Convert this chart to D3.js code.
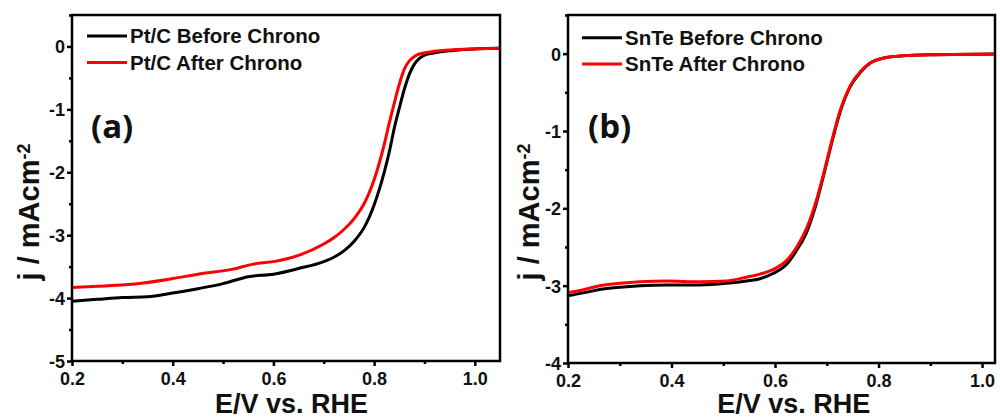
<!DOCTYPE html>
<html>
<head>
<meta charset="utf-8">
<script src="https://cdn.jsdelivr.net/npm/d3@7"></script>
<style>
  html, body { margin: 0; padding: 0; background: #fff; }
  svg { display: block; }
  .axis-title { font-family: "Liberation Sans", Arial, sans-serif; font-weight: bold; fill: #111; }
  .legend-text { font-family: "Liberation Sans", Arial, sans-serif; font-weight: bold; font-size: 20.5px; fill: #111; }
  .panel-label { font-family: "Open Sans", "Noto Sans", sans-serif; font-weight: bold; font-size: 33px; fill: #111; }
</style>
</head>
<body>
<svg id="chart" width="1000" height="420"></svg>
<script>
// Linear sweep voltammetry curves (potential in V vs. RHE, current density in mA cm^-2)
const ptcPotential = [0.20, 0.25, 0.30, 0.35, 0.40, 0.45, 0.50, 0.55, 0.60, 0.65, 0.70, 0.72, 0.74, 0.76, 0.78, 0.79, 0.80, 0.81, 0.82, 0.83, 0.84, 0.85, 0.86, 0.87, 0.88, 0.89, 0.90, 0.92, 0.957, 0.997, 1.05];
const ptcBefore    = [-4.05, -4.02, -3.99, -3.98, -3.92, -3.85, -3.77, -3.66, -3.62, -3.53, -3.42, -3.35, -3.25, -3.10, -2.88, -2.72, -2.52, -2.28, -2.00, -1.68, -1.30, -0.98, -0.68, -0.44, -0.28, -0.19, -0.14, -0.10, -0.064, -0.04, -0.03];

const ptcPotentialAfter = [0.20, 0.25, 0.32, 0.40, 0.45, 0.52, 0.56, 0.60, 0.65, 0.70, 0.72, 0.74, 0.76, 0.77, 0.78, 0.79, 0.80, 0.81, 0.82, 0.83, 0.84, 0.85, 0.86, 0.87, 0.88, 0.89, 0.917, 0.957, 0.997, 1.05];
const ptcAfter          = [-3.83, -3.81, -3.78, -3.69, -3.62, -3.54, -3.46, -3.42, -3.32, -3.14, -3.04, -2.91, -2.74, -2.63, -2.50, -2.33, -2.12, -1.86, -1.56, -1.22, -0.90, -0.60, -0.36, -0.23, -0.16, -0.12, -0.08, -0.053, -0.04, -0.03];

const sntePotential = [0.20, 0.232, 0.261, 0.30, 0.339, 0.39, 0.455, 0.506, 0.545, 0.571, 0.597, 0.623, 0.642, 0.661, 0.677, 0.694, 0.71, 0.726, 0.745, 0.765, 0.784, 0.81, 0.842, 0.906, 1.025];
const snteBefore    = [-3.13, -3.09, -3.05, -3.02, -3.00, -2.99, -2.99, -2.97, -2.94, -2.91, -2.84, -2.72, -2.54, -2.31, -2.00, -1.57, -1.14, -0.75, -0.43, -0.24, -0.12, -0.056, -0.03, -0.013, -0.004];
const snteAfter     = [-3.09, -3.05, -3.00, -2.97, -2.95, -2.94, -2.95, -2.94, -2.89, -2.85, -2.79, -2.67, -2.50, -2.26, -1.96, -1.55, -1.12, -0.73, -0.42, -0.23, -0.12, -0.056, -0.03, -0.013, -0.004];

const xTicks = [0.2, 0.4, 0.6, 0.8, 1.0];
const xMinorTicks = [0.3, 0.5, 0.7, 0.9];
const yTicksA = [0, -1, -2, -3, -4, -5];
const yMinorTicksA = [0.5, -0.5, -1.5, -2.5, -3.5, -4.5];
const yTicksB = [0, -1, -2, -3, -4];
const yMinorTicksB = [0.5, -0.5, -1.5, -2.5, -3.5];

const panels = [
  {
    label: "(a)",
    box: { left: 72, top: 15, right: 500, bottom: 361 },
    xDomain: [0.2, 1.05], yDomain: [-5, 0.5],
    yTicks: yTicksA, yMinor: yMinorTicksA,
    series: [
      { name: "Pt/C Before Chrono", x: ptcPotential, y: ptcBefore, color: "#000000" },
      { name: "Pt/C After Chrono", x: ptcPotentialAfter, y: ptcAfter, color: "#ff0000" }
    ],
    legend: { x0: 87, x1: 127, y: 36, dy: 26.5 },
    labelPos: { x: 91, y: 138 },
    yTitleX: 39
  },
  {
    label: "(b)",
    box: { left: 568, top: 15, right: 995, bottom: 363 },
    xDomain: [0.2, 1.025], yDomain: [-4, 0.5],
    yTicks: yTicksB, yMinor: yMinorTicksB,
    series: [
      { name: "SnTe Before Chrono", x: sntePotential, y: snteBefore, color: "#000000" },
      { name: "SnTe After Chrono", x: sntePotential, y: snteAfter, color: "#ff0000" }
    ],
    legend: { x0: 582, x1: 622, y: 37.7, dy: 26.3 },
    labelPos: { x: 588, y: 138 },
    yTitleX: 539
  }
];

const svg = d3.select("#chart");

function styleTickText(sel) {
  sel.attr("fill", "#111")
    .style("font-family", "'Liberation Sans', Arial, sans-serif")
    .style("font-weight", "bold")
    .style("font-size", "18px");
}

panels.forEach(p => {
  const x = d3.scaleLinear().domain(p.xDomain).range([p.box.left, p.box.right]);
  const y = d3.scaleLinear().domain(p.yDomain).range([p.box.bottom, p.box.top]);
  const g = svg.append("g");

  // curves
  const line = d3.line()
    .x(d => x(d[0]))
    .y(d => y(d[1]))
    .curve(d3.curveMonotoneX);

  p.series.forEach(s => {
    const pts = s.x.map((v, i) => [v, s.y[i]]);
    g.append("path")
      .datum(pts)
      .attr("d", line)
      .attr("fill", "none")
      .attr("stroke", s.color)
      .attr("stroke-width", 3)
      .attr("stroke-linejoin", "round");
  });

  // frame
  g.append("rect")
    .attr("x", p.box.left).attr("y", p.box.top)
    .attr("width", p.box.right - p.box.left)
    .attr("height", p.box.bottom - p.box.top)
    .attr("fill", "none").attr("stroke", "#000").attr("stroke-width", 2.5);

  // x axis major & minor ticks
  const xAxis = d3.axisBottom(x).tickValues(xTicks).tickSize(5).tickSizeOuter(0)
    .tickFormat(d3.format(".1f"));
  const gx = g.append("g").attr("transform", `translate(0,${p.box.bottom})`).call(xAxis);
  gx.select(".domain").remove();
  gx.selectAll(".tick line").attr("stroke", "#000").attr("stroke-width", 2.5);
  gx.selectAll(".tick text").attr("dy", null).attr("y", 24).call(styleTickText);

  const xMinor = d3.axisBottom(x).tickValues(xMinorTicks).tickSize(3).tickSizeOuter(0).tickFormat("");
  const gxm = g.append("g").attr("transform", `translate(0,${p.box.bottom})`).call(xMinor);
  gxm.select(".domain").remove();
  gxm.selectAll(".tick line").attr("stroke", "#000").attr("stroke-width", 2.5);

  // y axis major & minor ticks
  const yAxis = d3.axisLeft(y).tickValues(p.yTicks).tickSize(5).tickSizeOuter(0)
    .tickFormat(d3.format("d"));
  const gy = g.append("g").attr("transform", `translate(${p.box.left},0)`).call(yAxis);
  gy.select(".domain").remove();
  gy.selectAll(".tick line").attr("stroke", "#000").attr("stroke-width", 2.5);
  gy.selectAll(".tick text").attr("x", -7).attr("dy", "0.36em")
    .text(d => d === 0 ? "0" : "-" + Math.abs(d))
    .call(styleTickText);

  const yMinor = d3.axisLeft(y).tickValues(p.yMinor).tickSize(3).tickSizeOuter(0).tickFormat("");
  const gym = g.append("g").attr("transform", `translate(${p.box.left},0)`).call(yMinor);
  gym.select(".domain").remove();
  gym.selectAll(".tick line").attr("stroke", "#000").attr("stroke-width", 2.5);

  // axis titles
  g.append("text")
    .attr("class", "axis-title")
    .attr("x", x(0.2) + (x(1.0) - x(0.2)) * 0.545)
    .attr("y", 413)
    .attr("text-anchor", "middle")
    .style("font-size", "27px")
    .text("E/V vs. RHE");

  const yt = g.append("text")
    .attr("class", "axis-title")
    .attr("transform", `translate(${p.yTitleX},212) rotate(-90)`)
    .attr("text-anchor", "middle")
    .style("font-size", "29px");
  yt.append("tspan").text("j / mAcm");
  yt.append("tspan").attr("dy", "-0.5em").style("font-size", "18px").text("-2");

  // legend
  p.series.forEach((s, i) => {
    const ly = p.legend.y + i * p.legend.dy;
    g.append("line")
      .attr("x1", p.legend.x0).attr("x2", p.legend.x1)
      .attr("y1", ly).attr("y2", ly)
      .attr("stroke", s.color).attr("stroke-width", 3);
    g.append("text")
      .attr("class", "legend-text")
      .attr("x", p.legend.x1 + 3)
      .attr("y", ly + 7)
      .text(s.name);
  });

  // panel label
  g.append("text")
    .attr("class", "panel-label")
    .attr("x", p.labelPos.x)
    .attr("y", p.labelPos.y)
    .text(p.label);
});
</script>
</body>
</html>
